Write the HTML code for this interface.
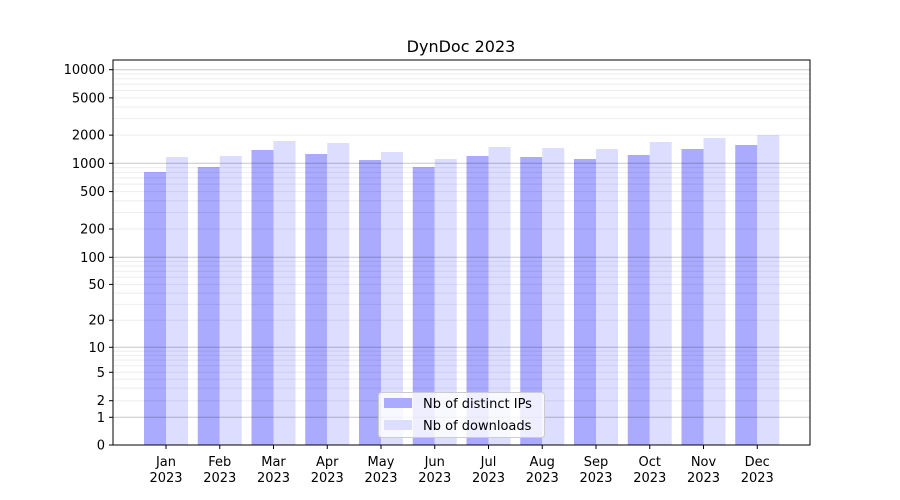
<!DOCTYPE html>
<html><head><meta charset="utf-8"><style>body{margin:0;background:#fff}svg{display:block;font-family:"DejaVu Sans","Liberation Sans",sans-serif}</style></head>
<body>
<svg id="s" width="900" height="500" xmlns="http://www.w3.org/2000/svg"></svg>
<script>
var s=document.getElementById('s'),h='';
var K=[[1,417.3],[2,400.7],[5,372.3],[10,347.3],[100,257.3],[1000,163.3],[10000,69.7]];
function f(v){if(v<=1)return 445-27.7*v;
 for(var i=0;i<K.length-1;i++){var a=K[i],b=K[i+1];if(v<=b[0]||i==K.length-2){var t=Math.log(v/a[0])/Math.log(b[0]/a[0]);return a[1]+(b[1]-a[1])*t;}}}
var tops=[[172,157],[167,156],[150,141],[154,143],[160,152],[167,159],[156,147],[157,148],[159,149],[155,142],[149,138],[145,135]];
var m=['Jan','Feb','Mar','Apr','May','Jun','Jul','Aug','Sep','Oct','Nov','Dec'];
for(var i=0;i<12;i++){var c=166+i*53.75;
 h+='<rect x="'+(c-22)+'" y="'+tops[i][0]+'" width="22" height="'+(445-tops[i][0])+'" fill="#aaaaff"/>';
 h+='<rect x="'+c+'" y="'+tops[i][1]+'" width="22" height="'+(445-tops[i][1])+'" fill="#ddddff"/>';
 h+='<line x1="'+c+'" y1="445" x2="'+c+'" y2="449" stroke="#000"/>';
 h+='<text x="'+c+'" y="466" font-size="13" text-anchor="middle">'+m[i]+'</text><text x="'+c+'" y="482" font-size="13" text-anchor="middle">2023</text>';}
for(var d=1;d<=1000;d*=10)for(var k=2;k<=9;k++){var y=f(d*k);h+='<line x1="113" x2="810" y1="'+y+'" y2="'+y+'" stroke="#000" stroke-opacity="0.07"/>';}
var ticks=[0,1,2,5,10,20,50,100,200,500,1000,2000,5000,10000];
[1,10,100,1000,10000].forEach(function(v){var y=f(v);h+='<line x1="113" x2="810" y1="'+y+'" y2="'+y+'" stroke="#000" stroke-opacity="0.22"/>';});
ticks.forEach(function(v){var y=f(v);h+='<line x1="109" x2="113" y1="'+y+'" y2="'+y+'" stroke="#000"/><text x="105" y="'+(y+4.5)+'" font-size="13" text-anchor="end">'+v+'</text>';});
h+='<rect x="113" y="60" width="697" height="385" fill="none" stroke="#000"/>';
h+='<text x="461" y="52" font-size="16" text-anchor="middle">DynDoc 2023</text>';
h+='<rect x="378.5" y="392.5" width="166" height="45" rx="3" fill="#fff" fill-opacity="0.8" stroke="#ccc"/>';
h+='<rect x="384" y="398" width="28" height="10" fill="#aaaaff"/><text x="423" y="408" font-size="13">Nb of distinct IPs</text>';
h+='<rect x="384" y="420" width="28" height="10" fill="#ddddff"/><text x="423" y="430" font-size="13">Nb of downloads</text>';
s.innerHTML=h;
</script>
</body></html>
